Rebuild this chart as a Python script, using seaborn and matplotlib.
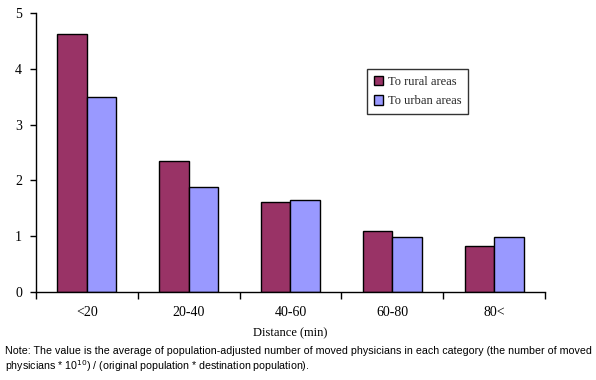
#!/usr/bin/env python3
"""Average population-adjusted number of moved physicians by travel distance."""

import matplotlib

matplotlib.use("Agg")
import matplotlib.pyplot as plt
import numpy as np
import pandas as pd
import seaborn as sns

CATEGORIES = ["<20", "20-40", "40-60", "60-80", "80<"]
RURAL = [4.62, 2.34, 1.62, 1.10, 0.82]
URBAN = [3.50, 1.89, 1.64, 0.98, 0.98]
SERIES = ["To rural areas", "To urban areas"]
COLORS = ["#993366", "#9999FF"]
Y_TICKS = [0, 1, 2, 3, 4, 5]

NOTE = (
    "Note: The value is the average of population-adjusted number of moved physicians in each category (the number of moved\n"
    "physicians * 10$^{10}$) / (original population * destination population)."
)


def build_frame() -> pd.DataFrame:
    rows = []
    for cat, r, u in zip(CATEGORIES, RURAL, URBAN):
        rows.append({"distance": cat, "series": SERIES[0], "value": r})
        rows.append({"distance": cat, "series": SERIES[1], "value": u})
    return pd.DataFrame(rows)


def main() -> None:
    sns.set_theme(style="white")
    plt.rcParams["font.family"] = ["Liberation Serif", "DejaVu Serif"]

    df = build_frame()

    fig = plt.figure(figsize=(5.96, 3.80), dpi=100)
    ax = fig.add_axes([0.0604, 0.2316, 0.854, 0.7342])

    sns.barplot(
        data=df,
        x="distance",
        y="value",
        hue="series",
        order=CATEGORIES,
        hue_order=SERIES,
        palette=COLORS,
        width=0.58,
        edgecolor="black",
        linewidth=1.0,
        saturation=1,
        ax=ax,
    )

    ax.set_xlim(-0.5, len(CATEGORIES) - 0.5)
    ax.set_ylim(0, 5)
    ax.set_yticks(Y_TICKS)
    ax.set_yticklabels([str(t) for t in Y_TICKS], fontsize=10)
    ax.set_xticklabels(CATEGORIES, fontsize=10)
    ax.set_xticks(np.arange(-0.5, len(CATEGORIES)), minor=True)
    ax.tick_params(axis="x", which="major", bottom=True, length=0, pad=10)
    ax.tick_params(axis="x", which="minor", bottom=True, length=5, width=1,
                   color="black", direction="out")
    ax.tick_params(axis="y", which="major", left=True, length=4, width=1,
                   color="black", direction="out", pad=6)
    ax.tick_params(labelcolor="black")

    for side in ("top", "right"):
        ax.spines[side].set_visible(False)
    for side in ("left", "bottom"):
        ax.spines[side].set_color("black")
        ax.spines[side].set_linewidth(1)

    ax.set_xlabel("Distance (min)", fontsize=9, color="black", labelpad=6)
    ax.set_ylabel("")

    ax.legend_.remove()
    handles, labels = ax.get_legend_handles_labels()
    leg = fig.legend(
        handles,
        labels,
        loc="upper left",
        bbox_to_anchor=(367 / 596, 1 - 69 / 380),
        borderaxespad=0,
        frameon=True,
        fancybox=False,
        edgecolor="black",
        fontsize=9,
        handlelength=0.75,
        handleheight=0.75,
        handletextpad=0.35,
        labelspacing=0.6,
        borderpad=0.55,
    )
    leg.get_frame().set_linewidth(1)

    fig.text(
        0.008,
        0.016,
        NOTE,
        fontsize=7.7,
        family=["Liberation Sans", "DejaVu Sans"],
        color="black",
        ha="left",
        va="bottom",
        linespacing=1.2,
    )

    fig.savefig("out.png", dpi=100)
    plt.close(fig)


if __name__ == "__main__":
    main()
